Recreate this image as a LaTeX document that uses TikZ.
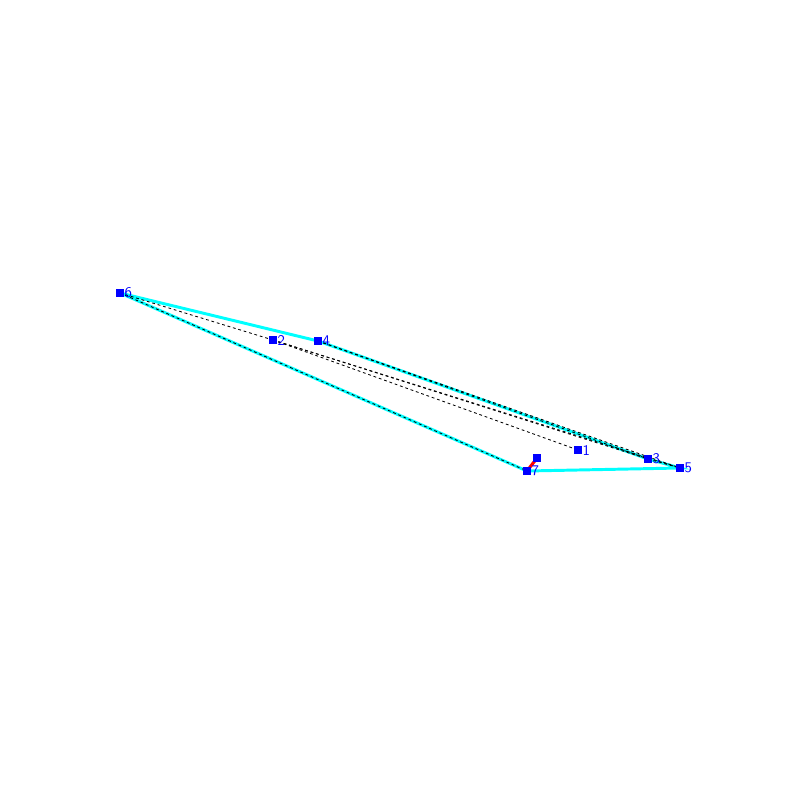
\documentclass[tikz,border=0pt]{standalone}
\usepackage{tikz}
\usetikzlibrary{arrows.meta,positioning}
\definecolor{ptblue}{HTML}{0000FF}
\definecolor{hullcyan}{HTML}{00FFFF}
\definecolor{segred}{HTML}{FF0000}
\tikzset{
  pt/.style={rectangle,inner sep=0pt,minimum size=0.17cm},
  hull/.style={hullcyan,line width=2.1pt},
  tri/.style={black,line width=0.6pt,dash pattern=on 2pt off 2pt}
}

\begin{document}
\begin{tikzpicture}[x=0.025cm,y=-0.025cm,>=stealth,font=\sffamily\fontsize{10.5}{12}\selectfont]
\useasboundingbox[fill=white] (0,0) rectangle (800,800);
\foreach \n/\x/\y in {1/578/450,2/273/340,3/648/459,4/318/341,5/680/468,6/120/293,7/527/471}{
  \node[pt] (n\n) at (\x,\y) {};}
\node[pt] (q) at (537,458) {};
% boundary and edges
\draw[hull] (n6.center)--(n4.center)--(n3.center)--(n5.center)--(n7.center)--cycle;
\foreach \a/\b in {6/2,6/7,2/1,2/3,2/5,4/3,4/5,3/5}{\draw[tri] (n\a.center)--(n\b.center);}
\draw[segred,line width=2.2pt] (n7.center)--(q.center);
% points on top
\foreach \n in {1,...,7}{
  \fill[ptblue] (n\n.south west) rectangle (n\n.north east);
  \node[ptblue,inner sep=0.5pt,right=0pt of n\n] (l\n) {\n};}
\fill[ptblue] (q.south west) rectangle (q.north east);
\end{tikzpicture}
\end{document}
